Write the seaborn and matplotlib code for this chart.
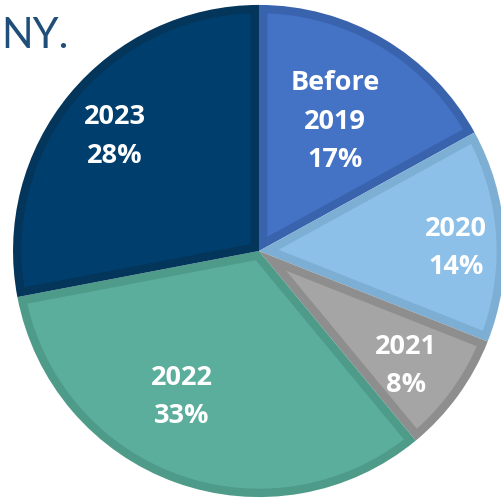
import matplotlib.pyplot as plt
import seaborn as sns
import numpy as np

# share of items by year
labels = ['Before\n2019', '2020', '2021', '2022', '2023']
shares = [17, 14, 8, 33, 28]

fills = ['#4472C4', '#8DC0E8', '#A5A5A5', '#5BAD9C', '#003F6D']
edges = ['#3A63AE', '#7DAED3', '#8E8E8E', '#4E9B8A', '#04355A']
# label placement: fraction of radius, and turn (deg) away from the wedge middle
label_r = [0.61, 0.80, 0.76, 0.67, 0.75]
label_turn = [0, -2.7, -2, -8, 1.2]

sns.set_theme(style='white')
plt.rcParams['font.family'] = ['Open Sans', 'DejaVu Sans']

fig = plt.figure(figsize=(5.02, 5.01), dpi=100)
ax = fig.add_axes([0, 0, 1, 1])

# outer pie in the darker edge colour
wedges, _ = ax.pie(shares, colors=edges, startangle=90, counterclock=False,
                   wedgeprops=dict(linewidth=0))

d = 0.034  # width of the inner border, in radius units
R = 1.0
for w, fc, lab, s, r, turn in zip(wedges, fills, labels, shares, label_r, label_turn):
    a1, a2 = np.deg2rad(w.theta1), np.deg2rad(w.theta2)
    half = (a2 - a1) / 2
    mid = (a1 + a2) / 2
    p0 = d / np.sin(half) * np.array([np.cos(mid), np.sin(mid)])
    ends = []
    for a in (a1, a2):
        e = np.array([np.cos(a), np.sin(a)])
        b = p0 @ e
        t = -b + np.sqrt(b * b - p0 @ p0 + (R - d) ** 2)
        ends.append(p0 + t * e)
    f1 = np.arctan2(ends[0][1], ends[0][0])
    f2 = np.arctan2(ends[1][1], ends[1][0])
    if f2 < f1:
        f2 += 2 * np.pi
    arc = np.linspace(f1, f2, 100)
    xs = np.concatenate([[p0[0]], (R - d) * np.cos(arc), [p0[0]]])
    ys = np.concatenate([[p0[1]], (R - d) * np.sin(arc), [p0[1]]])
    ax.fill(xs, ys, color=fc, lw=0)

    ang = mid + np.deg2rad(turn)
    ax.text(r * np.cos(ang), r * np.sin(ang), f'{lab}\n{s}%',
            ha='center', va='center', color='white', fontsize=19.5,
            fontweight='bold', linespacing=1.62)

ax.set_xlim(-1.053, 0.988)
ax.set_ylim(-1.016, 1.020)
ax.set_aspect('auto')
ax.axis('off')

fig.text(0.002, 0.904, 'NY.', fontsize=30, color='#1F4E79', va='baseline',
         family='Lato')

fig.savefig('out.png', dpi=100)
